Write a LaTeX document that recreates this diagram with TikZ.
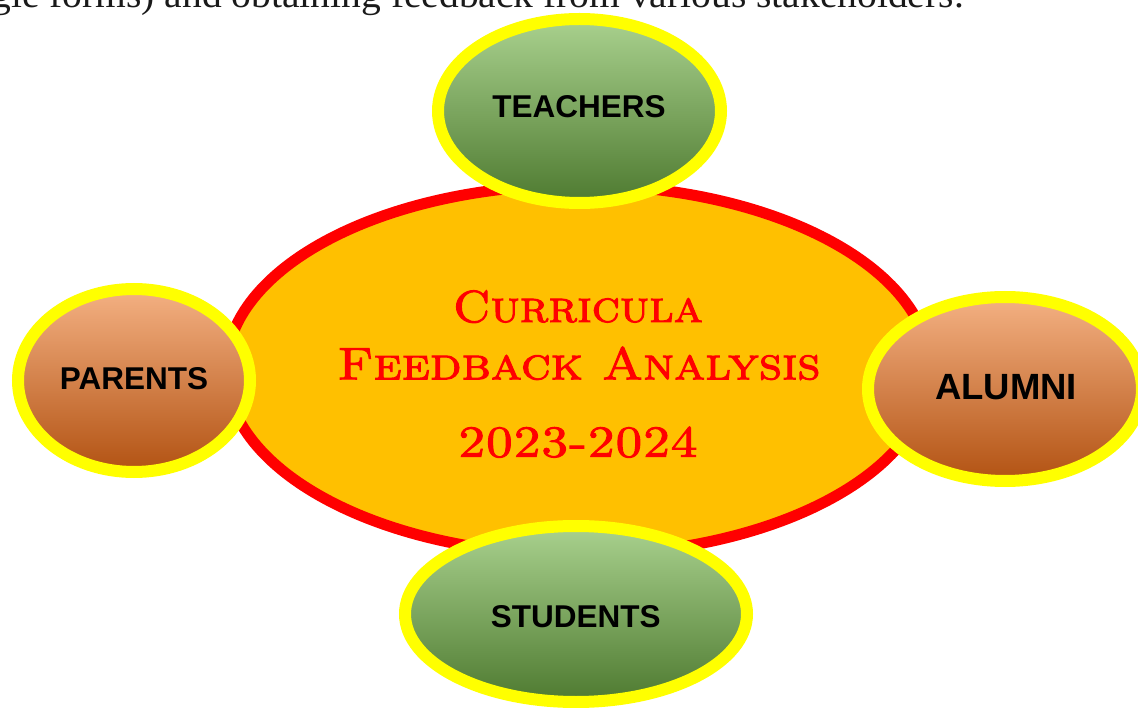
\documentclass[tikz,border=0pt]{standalone}
\usepackage{fontspec}
\usepackage{graphicx}
\usetikzlibrary{shapes.geometric}
\newfontfamily\labelfont{Liberation Sans}
\newfontfamily\topfont{Liberation Serif}
\newfontfamily\algfont[Extension=.otf, FakeBold=2.2]{lmromancaps10-regular}
\definecolor{gold}{HTML}{FFC000}
\definecolor{ringyellow}{HTML}{FFFF00}
\definecolor{rimred}{HTML}{FF0000}
\definecolor{gtop}{HTML}{A9D18E}
\definecolor{gmid}{HTML}{70AD47}
\definecolor{gbot}{HTML}{4E7A30}
\definecolor{otop}{HTML}{F4B183}
\definecolor{omid}{HTML}{ED7D31}
\definecolor{obot}{HTML}{B25212}
\definecolor{toptext}{HTML}{1A1A1A}
\begin{document}
\begin{tikzpicture}[x=1pt,y=-1pt,
  ring/.style={ellipse, draw=ringyellow, line width=12pt, inner sep=0pt, outer sep=0pt},
  greenfill/.style={top color=gtop, middle color=gmid, bottom color=gbot},
  orangefill/.style={top color=otop, middle color=omid, bottom color=obot},
  lbl/.style={anchor=base, inner sep=0pt, text=black, font=\labelfont\bfseries\fontsize{31.5}{31.5}\selectfont},
  ttl/.style={anchor=base, inner sep=0pt, text=rimred, font=\algfont\fontsize{40}{40}\selectfont}]
\useasboundingbox (0,0) rectangle (1138,708);
\clip (0,0) rectangle (1138,708);
% cut-off line of text at the top
\node[anchor=base east, inner sep=0pt, text=toptext, font=\topfont\fontsize{38}{38}\selectfont] (topline) at (964,7.5)
  {\scalebox{1.04}[1]{gle forms) and obtaining feedback from various stakeholders.}};
% central ellipse
\node[ellipse, fill=gold, draw=rimred, line width=11pt, minimum width=704pt, minimum height=370pt, inner sep=0pt] (hub) at (578,370) {};
\node[ttl] (t1) at (578,322) {\resizebox{250pt}{31.6pt}{Curricula}};
\node[ttl] (t2) at (579,379.3) {\resizebox{483pt}{32.6pt}{Feedback Analysis}};
\node[ttl] (t3) at (578,456.7) {\resizebox{240pt}{30pt}{2023-2024}};
% satellites
\node[ring, greenfill, minimum width=283pt, minimum height=184pt] (teachers) at (579.5,111) {};
\node[ring, greenfill, minimum width=342pt, minimum height=176pt] (students) at (576,614) {};
\node[ring, orangefill, minimum width=232pt, minimum height=183pt] (parents) at (134,380.5) {};
\node[ring, orangefill, minimum width=274pt, minimum height=184pt] (alumni) at (1005,389) {};
\node[lbl] (lt) at (579,118) {TEACHERS};
\node[lbl] (ls) at (575.7,627.3) {STUDENTS};
\node[lbl] (lp) at (134,390) {PARENTS};
\node[lbl, font=\labelfont\bfseries\fontsize{36.5}{36.5}\selectfont] (la) at (1006,400) {ALUMNI};
\end{tikzpicture}
\end{document}
